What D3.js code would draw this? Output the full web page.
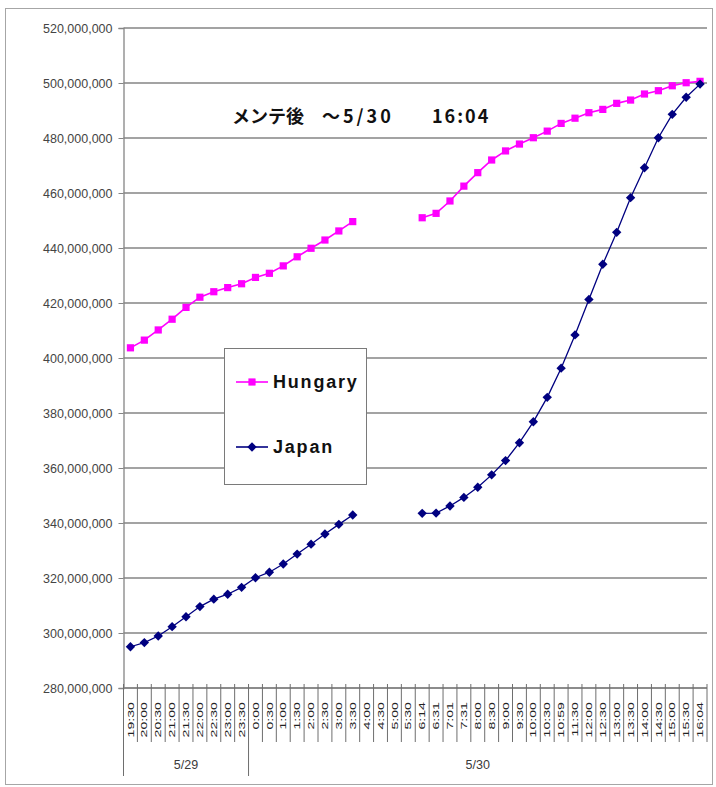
<!DOCTYPE html>
<html>
<head>
<meta charset="utf-8">
<script src="https://cdn.jsdelivr.net/npm/d3@7"></script>
<style>
  body { margin: 0; background: #fff; }
</style>
</head>
<body>
<div id="chart"></div>
<script>
// category labels (time of reading), grouped by day
const timeLabels = ["19:30","20:00","20:30","21:00","21:30","22:00","22:30","23:00","23:30",
  "0:00","0:30","1:00","1:30","2:00","2:30","3:00","3:30","4:00","4:30","5:00","5:30",
  "6:14","6:31","7:01","7:31","8:00","8:30","9:00","9:30","10:00","10:30","10:59",
  "11:30","12:00","12:30","13:00","13:30","14:00","14:30","15:00","15:30","16:04"];
const dayLabels = ["5/29", "5/30"];
const dayFirstTime = ["19:30", "0:00"];

// values in millions, null = no reading
const hungary = [403.7,406.5,410.2,414.1,418.4,422.1,424.1,425.6,427.0,429.3,430.8,433.5,436.8,439.9,442.9,446.2,449.6,
  null,null,null,null,
  451.0,452.6,457.1,462.5,467.4,472.0,475.3,477.8,480.1,482.5,485.3,487.2,489.2,490.4,492.6,493.8,496.0,497.2,499.0,500.1,500.6];
const japan = [295.0,296.5,298.9,302.3,305.9,309.6,312.3,314.1,316.6,320.1,322.1,325.1,328.7,332.3,336.0,339.5,342.9,
  null,null,null,null,
  343.5,343.6,346.2,349.3,353.0,357.5,362.7,369.2,376.8,385.7,396.3,408.4,421.3,434.1,445.7,458.3,469.2,480.1,488.6,494.8,499.6];

const yTicks = [280,300,320,340,360,380,400,420,440,460,480,500,520];
const seriesNames = ["Hungary", "Japan"];
const annotation = ["メンテ後", "～5/30", "16:04"];

var W = 716, H = 787;
var plotL = 123.5, plotR = 707, plotT = 28, plotB = 688;

var svg = d3.select("#chart").append("svg")
  .attr("width", W).attr("height", H)
  .style("font-family", "Arial, 'Liberation Sans', sans-serif");

// outer frame
svg.append("rect")
  .attr("x", 5.5).attr("y", 8.5).attr("width", 707).attr("height", 776)
  .attr("fill", "none").attr("stroke", "#a6a6a6");

var x = d3.scaleBand().domain(d3.range(timeLabels.length)).range([plotL, plotR]);
var y = d3.scaleLinear().domain([280, 520]).range([plotB, plotT]);
var cx = function(i) { return x(i) + x.bandwidth() / 2; };

// gridlines
svg.append("g").selectAll("line").data(yTicks).join("line")
  .attr("x1", plotL).attr("x2", plotR)
  .attr("y1", d => y(d)).attr("y2", d => y(d))
  .attr("stroke", "#858585").attr("stroke-width", 1.3);

// y axis
var yAxis = svg.append("g")
  .attr("transform", "translate(" + plotL + ",0)")
  .call(d3.axisLeft(y).tickValues(yTicks).tickSize(5).tickPadding(6)
    .tickFormat(d => d3.format(",")(d * 1e6)));
yAxis.select(".domain").attr("stroke", "#858585").attr("stroke-width", 1.3);
yAxis.selectAll(".tick line").attr("stroke", "#858585");
yAxis.selectAll(".tick text")
  .attr("font-size", 12.5).attr("fill", "#444")
  .attr("font-family", "Arial, 'Liberation Sans', sans-serif");

// x axis: category boundaries and labels
var bounds = d3.range(timeLabels.length + 1).map(i => i < timeLabels.length ? x(i) : plotR);
var dayStartIdx = dayFirstTime.map((t, k) => k === 0 ? 0 : timeLabels.indexOf(t));
var xg = svg.append("g");
xg.append("line").attr("x1", plotL).attr("x2", plotR).attr("y1", plotB).attr("y2", plotB)
  .attr("stroke", "#858585").attr("stroke-width", 1.3);
xg.selectAll("line.b").data(bounds).join("line").attr("class", "b")
  .attr("x1", d => d).attr("x2", d => d)
  .attr("y1", plotB - 4).attr("y2", 742)
  .attr("stroke", "#6e6e6e").attr("stroke-width", 1);
xg.selectAll("line.day").data(dayStartIdx).join("line").attr("class", "day")
  .attr("x1", d => x(d)).attr("x2", d => x(d))
  .attr("y1", 742).attr("y2", 776)
  .attr("stroke", "#6e6e6e").attr("stroke-width", 1);
xg.selectAll("text.t").data(timeLabels).join("text").attr("class", "t")
  .attr("transform", (d, i) => "translate(" + cx(i) + ",702) rotate(-90) scale(1.35,0.85)")
  .attr("text-anchor", "end").attr("dy", "0.35em")
  .attr("font-size", 10.5).attr("fill", "#222")
  .text(d => d);
xg.selectAll("text.day").data(dayLabels).join("text").attr("class", "day")
  .attr("x", (d, k) => {
    var a = x(dayStartIdx[k]);
    var b = k + 1 < dayStartIdx.length ? x(dayStartIdx[k + 1]) : plotR;
    return (a + b) / 2;
  })
  .attr("y", 769).attr("text-anchor", "middle")
  .attr("font-size", 12.5).attr("fill", "#3a3a3a")
  .text(d => d);

// lines and markers
var line = d3.line().defined(d => d != null)
  .x((d, i) => cx(i)).y(d => y(d));

var sqr = d3.symbol().type(d3.symbolSquare).size(52);
var dia = d3.symbol().type(d3.symbolSquare).size(44);

svg.append("path").datum(hungary)
  .attr("fill", "none").attr("stroke", "#ff00ff").attr("stroke-width", 1.6)
  .attr("d", line);
svg.append("path").datum(japan)
  .attr("fill", "none").attr("stroke", "#000080").attr("stroke-width", 1.3)
  .attr("d", line);

svg.append("g").selectAll("path")
  .data(hungary.map((v, i) => [v, i]).filter(d => d[0] != null)).join("path")
  .attr("transform", d => "translate(" + cx(d[1]) + "," + y(d[0]) + ")")
  .attr("d", sqr).attr("fill", "#ff00ff");
svg.append("g").selectAll("path")
  .data(japan.map((v, i) => [v, i]).filter(d => d[0] != null)).join("path")
  .attr("transform", d => "translate(" + cx(d[1]) + "," + y(d[0]) + ") rotate(45)")
  .attr("d", dia).attr("fill", "#000080");

// annotation
var ann = svg.append("text").attr("y", 123)
  .attr("font-family", "'Noto Sans CJK JP', sans-serif")
  .attr("font-size", 18).attr("font-weight", "bold").attr("fill", "#111");
ann.append("tspan").attr("x", 232).text(annotation[0]);
ann.append("tspan").attr("x", 322).attr("letter-spacing", 3).text(annotation[1]);
ann.append("tspan").attr("x", 432).attr("letter-spacing", 2).text(annotation[2]);

// legend
var lg = svg.append("g");
lg.append("rect").attr("x", 224.5).attr("y", 348.5).attr("width", 142).attr("height", 136)
  .attr("fill", "#fff").attr("stroke", "#7a7a7a");
var items = [
  { name: seriesNames[0], color: "#ff00ff", sym: sqr, rot: 0, yy: 382 },
  { name: seriesNames[1], color: "#000080", sym: dia, rot: 45, yy: 447 }
];
items.forEach(function(it) {
  lg.append("line").attr("x1", 236).attr("x2", 268).attr("y1", it.yy).attr("y2", it.yy)
    .attr("stroke", it.color).attr("stroke-width", 1.6);
  lg.append("path").attr("d", it.sym)
    .attr("transform", "translate(252," + it.yy + ") rotate(" + it.rot + ")")
    .attr("fill", it.color);
  lg.append("text").attr("x", 273).attr("y", it.yy).attr("dy", "0.36em")
    .attr("font-size", 18).attr("font-weight", "bold").attr("letter-spacing", 1.8)
    .attr("fill", "#111").text(it.name);
});
</script>
</body>
</html>
